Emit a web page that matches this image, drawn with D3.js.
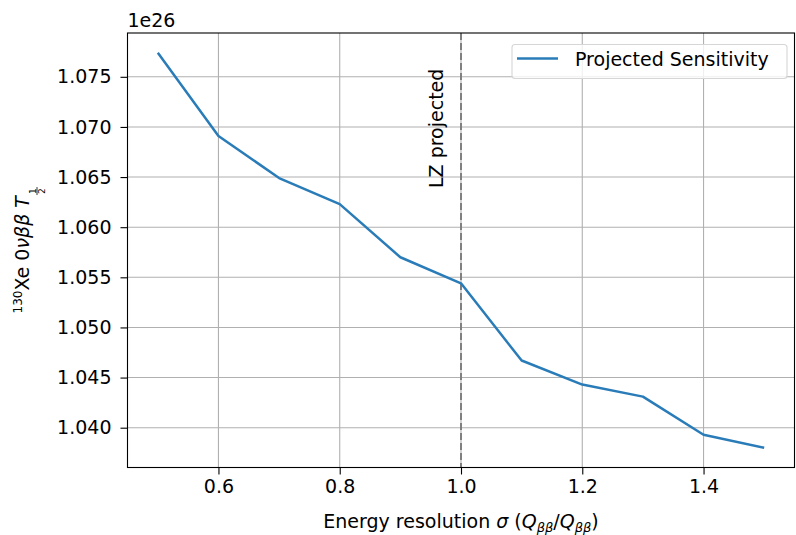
<!DOCTYPE html>
<html>
<head>
<meta charset="utf-8">
<script src="https://cdnjs.cloudflare.com/ajax/libs/d3/7.8.5/d3.min.js"></script>
<style>
  html, body { margin: 0; padding: 0; background: #fff; }
  svg { display: block; font-family: "DejaVu Sans", sans-serif; }
</style>
</head>
<body>
<div id="chart"></div>
<script>
// energy resolution values (sigma / Q_bb)
const resolution = [0.5, 0.6, 0.7, 0.8, 0.9, 1.0, 1.1, 1.2, 1.3, 1.4, 1.5];
// projected half-life sensitivity, units of 1e26 yr
const sensitivity = [1.0774, 1.0691, 1.0649, 1.0623, 1.0570, 1.0544, 1.0467, 1.0443, 1.0431, 1.0393, 1.0380];
const xTicks = [0.6, 0.8, 1.0, 1.2, 1.4];
const yTicks = [1.040, 1.045, 1.050, 1.055, 1.060, 1.065, 1.070, 1.075];
const lzValue = 1.0;
const seriesName = "Projected Sensitivity";

const width = 796, height = 535;
const margin = { left: 127.5, right: 1.5, top: 33, bottom: 67.5 };
const fontSize = 19;

const svg = d3.select("#chart").append("svg")
  .attr("width", width)
  .attr("height", height);

const x = d3.scaleLinear()
  .domain([0.45, 1.55])
  .range([margin.left, width - margin.right]);

const yMin = d3.min(sensitivity), yMax = d3.max(sensitivity);
const pad = (yMax - yMin) * 0.05;
const y = d3.scaleLinear()
  .domain([yMin - pad, yMax + pad])
  .range([height - margin.bottom, margin.top]);

// grid
svg.append("g")
  .selectAll("line")
  .data(xTicks)
  .join("line")
  .attr("x1", d => x(d)).attr("x2", d => x(d))
  .attr("y1", margin.top).attr("y2", height - margin.bottom)
  .attr("stroke", "#b0b0b0").attr("stroke-width", 1.1);

svg.append("g")
  .selectAll("line")
  .data(yTicks)
  .join("line")
  .attr("x1", margin.left).attr("x2", width - margin.right)
  .attr("y1", d => y(d)).attr("y2", d => y(d))
  .attr("stroke", "#b0b0b0").attr("stroke-width", 1.1);

// axes
const xAxis = svg.append("g")
  .attr("transform", `translate(0,${height - margin.bottom})`)
  .call(d3.axisBottom(x).tickValues(xTicks).tickFormat(d3.format(".1f")).tickSize(7).tickPadding(5));
const yAxis = svg.append("g")
  .attr("transform", `translate(${margin.left},0)`)
  .call(d3.axisLeft(y).tickValues(yTicks).tickFormat(d3.format(".3f")).tickSize(7).tickPadding(9));

[xAxis, yAxis].forEach(a => {
  a.select(".domain").remove();
  a.selectAll("text").attr("font-size", fontSize).attr("fill", "#000").attr("font-family", "DejaVu Sans");
  a.selectAll("line").attr("stroke", "#000").attr("stroke-width", 1.1);
});

// LZ projected marker
svg.append("line")
  .attr("x1", x(lzValue)).attr("x2", x(lzValue))
  .attr("y1", margin.top).attr("y2", height - margin.bottom)
  .attr("stroke", "#808080").attr("stroke-width", 2)
  .attr("stroke-dasharray", "7,3");

svg.append("text")
  .attr("transform", `translate(${x(lzValue) - 18.5},188) rotate(-90)`)
  .attr("font-size", fontSize)
  .text("LZ projected");

// data line
const line = d3.line()
  .x((d, i) => x(resolution[i]))
  .y(d => y(d));

svg.append("path")
  .datum(sensitivity)
  .attr("d", line)
  .attr("fill", "none")
  .attr("stroke", "#2a7cb8")
  .attr("stroke-width", 2.5)
  .attr("stroke-linejoin", "round");

// frame
svg.append("rect")
  .attr("x", margin.left).attr("y", margin.top)
  .attr("width", width - margin.right - margin.left)
  .attr("height", height - margin.bottom - margin.top)
  .attr("fill", "none").attr("stroke", "#000").attr("stroke-width", 1.1);

// offset text
svg.append("text")
  .attr("x", margin.left)
  .attr("y", 26.5)
  .attr("font-size", fontSize)
  .text("1e26");

// legend
const lg = svg.append("g");
lg.append("rect")
  .attr("x", 512).attr("y", 44.5).attr("width", 275).attr("height", 34)
  .attr("rx", 3)
  .attr("fill", "#fff").attr("fill-opacity", 0.8)
  .attr("stroke", "#d6d6d6").attr("stroke-width", 1.1);
lg.append("line")
  .attr("x1", 517).attr("x2", 558).attr("y1", 58.5).attr("y2", 58.5)
  .attr("stroke", "#2a7cb8").attr("stroke-width", 2.5);
lg.append("text")
  .attr("x", 575).attr("y", 66)
  .attr("font-size", fontSize)
  .text(seriesName);

// x label
const xl = svg.append("text")
  .attr("x", (margin.left + width - margin.right) / 2)
  .attr("y", 528)
  .attr("text-anchor", "middle")
  .attr("font-size", fontSize);
xl.append("tspan").text("Energy resolution ");
xl.append("tspan").attr("font-style", "italic").text("σ");
xl.append("tspan").text(" (");
xl.append("tspan").attr("font-style", "italic").text("Q");
xl.append("tspan").attr("font-style", "italic").attr("font-size", 13).attr("dy", 4).text("ββ");
xl.append("tspan").attr("dy", -4).text("/");
xl.append("tspan").attr("font-style", "italic").text("Q");
xl.append("tspan").attr("font-style", "italic").attr("font-size", 13).attr("dy", 4).text("ββ");
xl.append("tspan").attr("dy", -4).text(")");

// y label
const yl = svg.append("g")
  .attr("transform", `translate(29,${(margin.top + height - margin.bottom) / 2}) rotate(-90)`);
const inner = yl.append("g");
const yt = inner.append("text").attr("font-size", fontSize);
yt.append("tspan").attr("font-size", 12).attr("dy", -7).text("130");
yt.append("tspan").attr("dy", 7).text("Xe 0");
yt.append("tspan").attr("font-style", "italic").text("νββ T");
const len = yt.node().getComputedTextLength();
const fx = len + 1;
inner.append("text").attr("x", fx + 4).attr("y", 6.5).attr("font-size", 9)
  .attr("text-anchor", "middle").text("1");
inner.append("line").attr("x1", fx).attr("x2", fx + 8).attr("y1", 8).attr("y2", 8)
  .attr("stroke", "#000").attr("stroke-width", 0.8);
inner.append("text").attr("x", fx + 4).attr("y", 15.5).attr("font-size", 9)
  .attr("text-anchor", "middle").text("2");
inner.attr("transform", `translate(${-(fx + 8) / 2},0)`);
</script>
</body>
</html>
